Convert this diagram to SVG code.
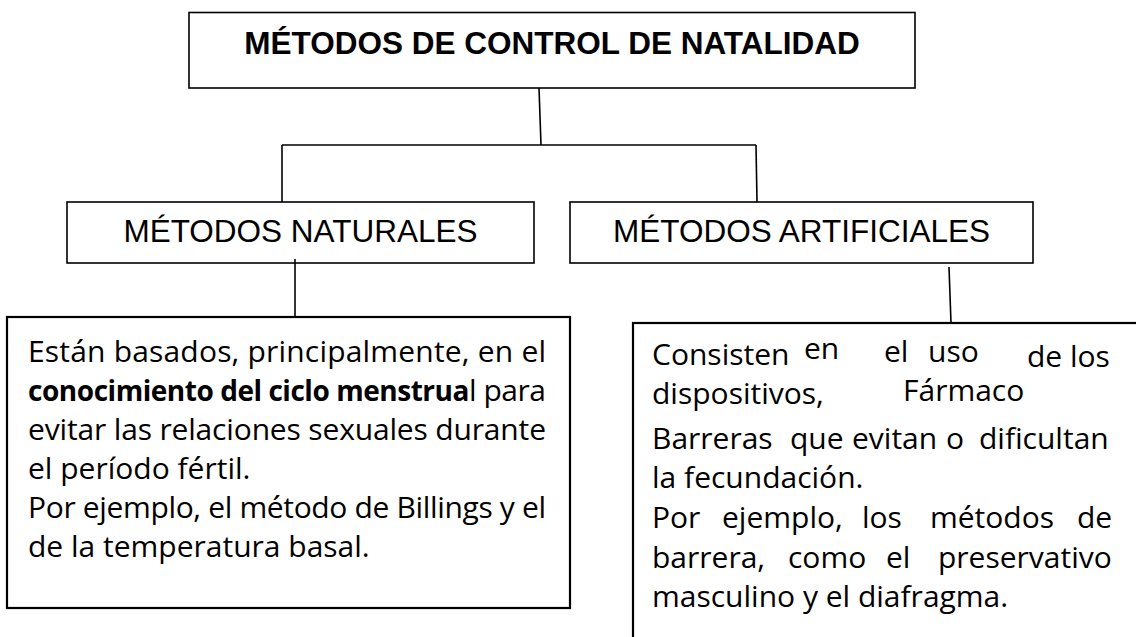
<svg xmlns="http://www.w3.org/2000/svg" width="1136" height="637" viewBox="0 0 1136 637">
<style>
.box{fill:#fff;stroke:#000;stroke-width:1.6}
.tbox{fill:#fff;stroke:#000;stroke-width:2.2}
.conn line{stroke:#000;stroke-width:1.6;fill:none}
.h{font-family:"Liberation Sans",Arial,sans-serif;font-size:31.5px;fill:#000}
.b{font-family:"Open Sans","Noto Sans",sans-serif;font-size:30px;fill:#000}
</style>
<rect width="1136" height="637" fill="#fff"/>
<g id="title">
<rect class="box" x="189" y="12.5" width="726" height="75.5"/>
<text class="h" x="552" y="54" text-anchor="middle" font-weight="bold">MÉTODOS DE CONTROL DE NATALIDAD</text>
</g>
<g id="naturales">
<rect class="box" x="67" y="202" width="467" height="61"/>
<text class="h" x="300.5" y="242" text-anchor="middle">MÉTODOS NATURALES</text>
</g>
<g id="artificiales">
<rect class="box" x="570" y="202" width="463" height="61"/>
<text class="h" x="801.5" y="242" text-anchor="middle">MÉTODOS ARTIFICIALES</text>
</g>
<g id="naturales-desc">
<rect class="tbox" x="7" y="317" width="563" height="291"/>
<text class="b" x="28" y="361.5" textLength="518" lengthAdjust="spacing">Están basados, principalmente, en el</text>
<text class="b" x="28" y="400.5" textLength="518" lengthAdjust="spacing"><tspan font-weight="bold" font-size="28px">conocimiento del ciclo menstrua</tspan>l para</text>
<text class="b" x="28" y="440" textLength="518" lengthAdjust="spacing">evitar las relaciones sexuales durante</text>
<text class="b" x="28" y="479">el período fértil.</text>
<text class="b" x="28" y="518" textLength="518" lengthAdjust="spacing">Por ejemplo, el método de Billings y el</text>
<text class="b" x="28" y="557">de la temperatura basal.</text>
</g>
<g id="artificiales-desc">
<rect class="tbox" x="633" y="323" width="600" height="400"/>
<text class="b"><tspan x="652" y="365">Consisten </tspan><tspan x="804" y="359">en </tspan><tspan x="884" y="362">el </tspan><tspan x="928" y="362">uso </tspan><tspan x="1027" y="367">de los</tspan></text>
<text class="b"><tspan x="652" y="404">dispositivos, </tspan><tspan x="903" y="401">Fármaco</tspan></text>
<text class="b" y="449"><tspan x="652">Barreras </tspan><tspan x="790">que </tspan><tspan x="852">evitan </tspan><tspan x="946">o </tspan><tspan x="979">dificultan</tspan></text>
<text class="b" x="652" y="488">la fecundación.</text>
<text class="b" y="528"><tspan x="652">Por </tspan><tspan x="722">ejemplo, </tspan><tspan x="862">los </tspan><tspan x="930">métodos </tspan><tspan x="1077">de</tspan></text>
<text class="b" y="568"><tspan x="652">barrera, </tspan><tspan x="788">como </tspan><tspan x="886">el </tspan><tspan x="938">preservativo</tspan></text>
<text class="b" x="652" y="607">masculino y el diafragma.</text>
</g>
<g id="connectors" class="conn">
<line x1="539" y1="88" x2="541" y2="145"/>
<line x1="282" y1="145" x2="756" y2="145"/>
<line x1="282" y1="145" x2="282" y2="202"/>
<line x1="756" y1="145" x2="757" y2="202"/>
<line x1="295" y1="259" x2="295" y2="316"/>
<line x1="949" y1="267" x2="951" y2="323"/>
</g>
</svg>
